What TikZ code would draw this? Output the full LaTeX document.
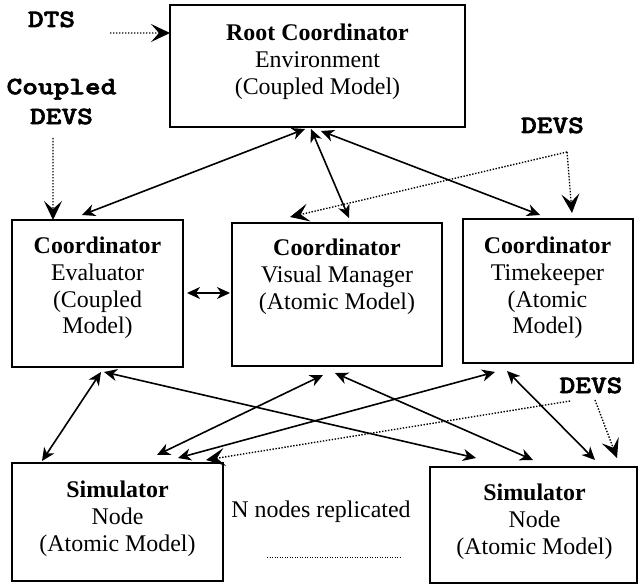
\documentclass[tikz,border=0pt]{standalone}
\usepackage{fontspec}
\setmainfont{Liberation Serif}
% heavy slab-serif typewriter face, widened to a Courier-like pitch
\newfontfamily\tagfont{lmmonolt10-bold.otf}[FakeStretch=1.2, FakeBold=2.5]
\usetikzlibrary{arrows.meta}

\tikzset{
  box/.style={draw, line width=2bp, rectangle, inner sep=0pt, outer sep=0pt},
  boxtext/.style={anchor=north, align=center, inner sep=0pt,
    font=\fontsize{24}{27}\selectfont},
  tag/.style={align=center, inner sep=0pt,
    font=\fontsize{25}{30}\selectfont\tagfont},
  link/.style={line width=1.6bp, {Stealth[length=13bp,width=12bp,inset=4bp]}-{Stealth[length=13bp,width=12bp,inset=4bp]}},
  hint/.style={line width=1.4bp, dash pattern=on 1.4bp off 1.6bp,
    -{Stealth[length=19bp,width=18bp,inset=8bp]}},
}

\begin{document}
\begin{tikzpicture}[x=1bp, y=-1bp]
\useasboundingbox (0,0) rectangle (638,584);
\fill[white] (0,0) rectangle (638,584);

% boxes
\node[box, minimum width=295bp, minimum height=122bp] (root) at (317.5,66) {};
\node[box, minimum width=171bp, minimum height=147bp] (eval) at (97.5,293.5) {};
\node[box, minimum width=210bp, minimum height=143bp] (vm)   at (337,294.5) {};
\node[box, minimum width=170bp, minimum height=144bp] (tk)   at (548,291) {};
\node[box, minimum width=211bp, minimum height=118bp] (lsim) at (117.5,522) {};
\node[box, minimum width=207bp, minimum height=116bp] (rsim) at (533.5,525) {};

% box contents
\node[boxtext] (rootT) at (317.5,23.5) {\textbf{Root Coordinator}\\Environment\\(Coupled Model)};
\node[boxtext] (evalT) at (97.5,236.5) {\textbf{Coordinator}\\Evaluator\\(Coupled\\Model)};
\node[boxtext] (vmT)   at (337,238.5) {\textbf{Coordinator}\\Visual Manager\\(Atomic Model)};
\node[boxtext] (tkT)   at (547.5,236.5) {\textbf{Coordinator}\\Timekeeper\\(Atomic\\Model)};
\node[boxtext] (lsimT) at (117.5,480.5) {\textbf{Simulator}\\Node\\(Atomic Model)};
\node[boxtext] (rsimT) at (534.5,483.5) {\textbf{Simulator}\\Node\\(Atomic Model)};

% side labels
\node[tag, anchor=base] (dtsL) at (51.5,27) {DTS};
\node[tag, anchor=north] (cdevsL) at (61.5,78.5) {Coupled\\DEVS};
\node[tag, anchor=base] (devsA) at (552.5,133) {DEVS};
\node[tag, anchor=base] (devsB) at (591,393) {DEVS};
\node[anchor=base, inner sep=0pt, font=\fontsize{24}{27}\selectfont] (repL) at (321,517) {N nodes replicated};

% free ends of the dotted hints
\coordinate (dtsEnd) at (110,33);
\coordinate (cdevsEnd) at (53,138);
\coordinate (devsAEnd) at (567,152);
\coordinate (devsBEnd) at (570,401);
\coordinate (devsBEnd2) at (595,400);
\coordinate (dotsL) at (267,557);
\coordinate (dotsR) at (400,557);

% dotted hints
\draw[hint] (dtsEnd) -- ([shift={(0,28)}]root.north west);
\draw[hint] (cdevsEnd) -- ([shift={(41,0)}]eval.north west);
\draw[hint] (devsAEnd) -- ([shift={(58,-6)}]vm.north west);
\draw[hint] (devsAEnd) -- ([shift={(109,-6)}]tk.north west);
\draw[hint] (devsBEnd) -- ([shift={(194,-3)}]lsim.north west);
\draw[hint] (devsBEnd2) -- ([shift={(187,-9)}]rsim.north west);
\draw[line width=1bp, dash pattern=on 1bp off 1.5bp] (dotsL) -- (dotsR);

% message links
\draw[link] ([shift={(135,2)}]root.south west) -- ([shift={(70,-5)}]eval.north west);
\draw[link] ([shift={(141,2)}]root.south west) -- ([shift={(117,-5)}]vm.north west);
\draw[link] ([shift={(151,4)}]root.south west) -- ([shift={(77,-4)}]tk.north west);
\draw[link] ([shift={(4,-0.5)}]eval.east) -- ([shift={(-2,-1.5)}]vm.west);
\draw[link] ([shift={(30,-2)}]lsim.north west) -- ([shift={(89,5)}]eval.south west);
\draw[link] ([shift={(92,5)}]eval.south west) -- ([shift={(46,-9)}]rsim.north west);
\draw[link] ([shift={(91,9)}]vm.south west) -- ([shift={(145,-8)}]lsim.north west);
\draw[link] ([shift={(103,7)}]vm.south west) -- ([shift={(103,-7)}]rsim.north west);
\draw[link] ([shift={(32,9)}]tk.south west) -- ([shift={(166,-5)}]lsim.north west);
\draw[link] ([shift={(44,8)}]tk.south west) -- ([shift={(165,-7)}]rsim.north west);
\end{tikzpicture}
\end{document}
